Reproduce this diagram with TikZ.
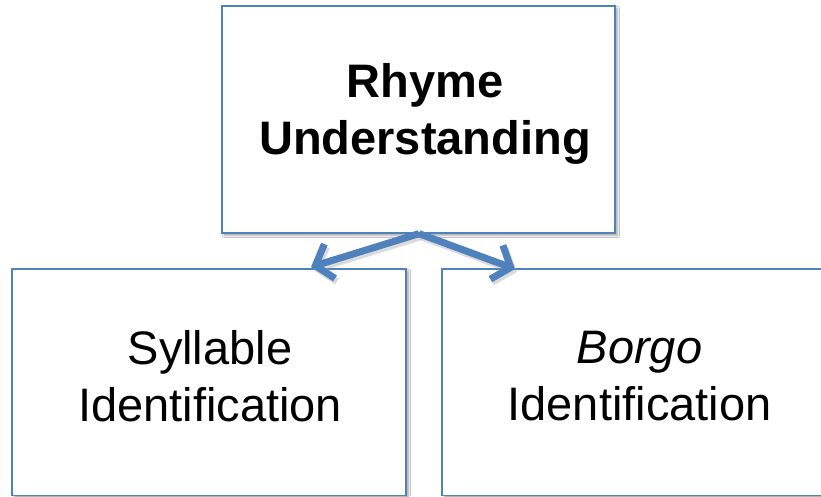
\documentclass[tikz,border=0pt]{standalone}
\usepackage{fontspec}
\setmainfont{Liberation Sans}
\usetikzlibrary{arrows.meta,shadows.blur,calc}
\definecolor{boxblue}{HTML}{4F81BD}
\tikzset{
  box/.style={draw=boxblue, line width=1.3pt, fill=white, rectangle,
    inner sep=0pt,
    blur shadow={shadow xshift=2.5pt, shadow yshift=-2.5pt, shadow blur steps=6, shadow opacity=35}},
  lbl/.style={align=center, text=black, inner sep=0pt, font=\fontsize{47}{57}\selectfont},
  conn/.style={draw=boxblue, line width=7pt,
    -{Straight Barb[length=15pt,width=36pt,line width=7pt]}},
  connshadow/.style={draw=black!35, opacity=0.4, line width=7pt,
    -{Straight Barb[length=15pt,width=36pt,line width=7pt]}}
}
\begin{document}
\begin{tikzpicture}[x=1pt,y=-1pt]
\useasboundingbox (0,0) rectangle (821,496);
\fill[white] (0,0) rectangle (821,496);
\node[box, minimum width=393pt, minimum height=227pt] (top) at (418.5,119.5) {};
\node[box, minimum width=394pt, minimum height=226.5pt] (left) at (209,382.25) {};
\node[box, minimum width=394pt, minimum height=226.5pt] (right) at (639,382.25) {};
\node[lbl, font=\bfseries\fontsize{47}{57}\selectfont] (toplbl) at (425,114) {Rhyme\\Understanding};
\node[lbl] (leftlbl) at (210,376.5) {Syllable\\Identification};
\node[lbl] (rightlbl) at (639.5,376.5) {\textit{Borgo}\\Identification};
\coordinate (src) at ($(top.south)+(0.5,0)$);
\coordinate (lt) at (311,267);
\coordinate (rt) at (515,269);
\coordinate (srcs) at ($(src)+(2,3)$);
\coordinate (lts) at ($(lt)+(2,3)$);
\coordinate (rts) at ($(rt)+(2,3)$);
\draw[connshadow] (srcs) -- (lts);
\draw[connshadow] (srcs) -- (rts);
\draw[conn] (src) -- (lt);
\draw[conn] (src) -- (rt);
\end{tikzpicture}
\end{document}
